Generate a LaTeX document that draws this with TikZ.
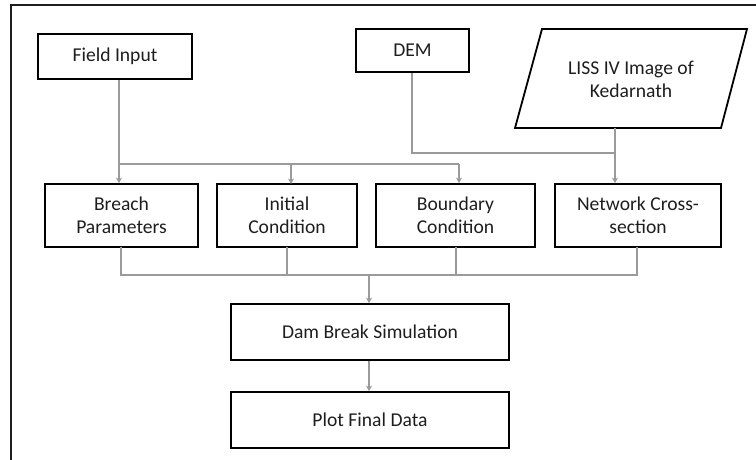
\documentclass[tikz,border=0pt]{standalone}
\usepackage{fontspec}
\setmainfont{Carlito}
\usetikzlibrary{arrows.meta,calc}
\definecolor{linkgray}{HTML}{9A9A9A}
\definecolor{inkgray}{HTML}{1E1E1E}
\begin{document}
\begin{tikzpicture}[x=1pt,y=-1pt,
  box/.style={draw=black,line width=1.8pt,rectangle,align=center,
    inner sep=0pt,text=inkgray,
    font=\fontsize{19.6}{23}\selectfont},
  link/.style={draw=linkgray,line width=1.5pt},
  arrowlink/.style={link,-{Stealth[length=5.5pt,width=6pt,fill=inkgray!80]}}]
\useasboundingbox (0,0) rectangle (756,460);
\begin{scope}
  \clip (0,0) rectangle (756,460);
  % outer frame, running off the page on the right and at the bottom
  \draw[line width=1.8pt,draw=inkgray] (11,520) -- (11,5) -- (820,5);
\end{scope}

% input boxes
\node[box,minimum width=154pt,minimum height=45pt] (field) at (115,56.5) {Field Input};
\node[box,minimum width=113pt,minimum height=43pt] (dem) at (412.5,50.5) {DEM};
\coordinate (pA) at (542,29);
\coordinate (pB) at (747,29);
\coordinate (pC) at (721,128);
\coordinate (pD) at (515,128);
\draw[line width=1.8pt,line join=miter] (pA) -- (pB) -- (pC) -- (pD) -- cycle;
\node[align=center,text=inkgray,font=\fontsize{19.6}{23}\selectfont] (liss) at (631,79)
  {LISS IV Image of\\Kedarnath};

% second row
\node[box,minimum width=153pt,minimum height=63pt] (breach) at (121.5,215.5) {Breach\\Parameters};
\node[box,minimum width=140pt,minimum height=63pt] (initial) at (287,215.5) {Initial\\Condition};
\node[box,minimum width=159pt,minimum height=63pt] (boundary) at (455.5,215.5) {Boundary\\Condition};
\node[box,minimum width=166pt,minimum height=63pt] (network) at (638,215.5) {Network Cross-\\section};

% lower chain
\node[box,minimum width=278pt,minimum height=56pt] (dam) at (370,332) {Dam Break Simulation};
\node[box,minimum width=278pt,minimum height=56pt] (plot) at (370,420) {Plot Final Data};

% junction points
\coordinate (fj) at (119,164);
\coordinate (fe) at (459,164);
\coordinate (dj) at (412,153);
\coordinate (lj) at (615,153);
\coordinate (lt) at (615,128);
\coordinate (mj) at (369,275);

% field input feeds three boxes
\draw[link] (fj |- field.south) -- (fj) -- (fe);
\draw[arrowlink] (fj) -- (fj |- breach.north);
\draw[arrowlink] (291,164) -- (291,184);
\draw[arrowlink] (fe) -- (fe |- boundary.north);

% DEM and image feed the network
\draw[link] (dj |- dem.south) -- (dj) -- (lj);
\draw[arrowlink] (lt) -- (lt |- network.north);

% second row merges into the simulation
\draw[link] (121,247) -- (121,275) -- (637,275) -- (637,247);
\draw[link] (287,247) -- (287,275);
\draw[link] (456,247) -- (456,275);
\draw[arrowlink] (mj) -- (mj |- dam.north);
\draw[arrowlink] (mj |- dam.south) -- (mj |- plot.north);
\end{tikzpicture}
\end{document}
